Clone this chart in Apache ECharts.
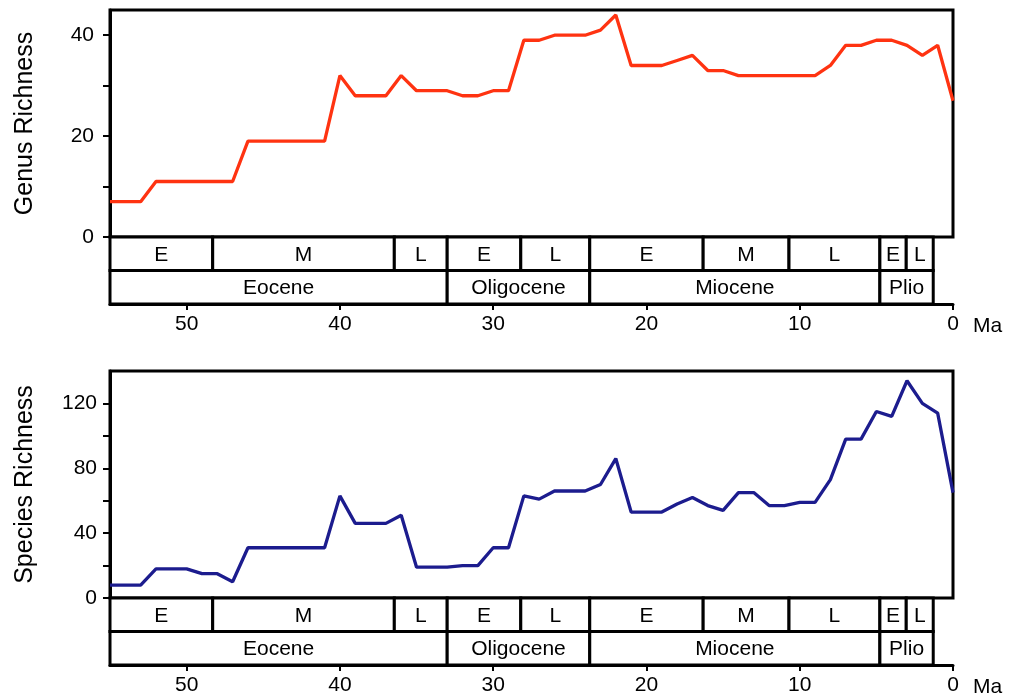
<!DOCTYPE html>
<html>
<head>
<meta charset="utf-8">
<script src="https://cdn.jsdelivr.net/npm/echarts@6/dist/echarts.min.js"></script>
<style>
  html, body { margin: 0; padding: 0; background: #fff; }
  #chart { width: 1009px; height: 698px; }
</style>
</head>
<body>
<div id="chart"></div>
<script>
// Ages (Ma) of the richness samples, oldest first
const ages = [55, 54, 53, 52, 51, 50, 49, 48, 47, 46, 45, 44, 43, 42, 41, 40, 39, 38, 37, 36,
              35, 34, 33, 32, 31, 30, 29, 28, 27, 26, 25, 24, 23, 22, 21, 20, 19, 18, 17, 16,
              15, 14, 13, 12, 11, 10, 9, 8, 7, 6, 5, 4, 3, 2, 1, 0];

// Genus richness at each age
const genusRichness = [7, 7, 7, 11, 11, 11, 11, 11, 11, 19, 19, 19, 19, 19, 19, 32, 28, 28, 28, 32,
                       29, 29, 29, 28, 28, 29, 29, 39, 39, 40, 40, 40, 41, 44, 34, 34, 34, 35, 36, 33,
                       33, 32, 32, 32, 32, 32, 32, 34, 38, 38, 39, 39, 38, 36, 38, 27];

// Species richness at each age
const speciesRichness = [8, 8, 8, 18, 18, 18, 15, 15, 10, 31, 31, 31, 31, 31, 31, 63, 46, 46, 46, 51,
                         19, 19, 19, 20, 20, 31, 31, 63, 61, 66, 66, 66, 70, 86, 53, 53, 53, 58, 62, 57,
                         54, 65, 65, 57, 57, 59, 59, 73, 98, 98, 115, 112, 134, 120, 114, 65];

// Geological time scale: boundaries (Ma) and names
const stageBounds = [55, 48.3, 36.45, 33.0, 28.2, 23.7, 16.3, 10.7, 4.77, 3.05, 1.29];
const stageNames = ['E', 'M', 'L', 'E', 'L', 'E', 'M', 'L', 'E', 'L'];
const epochBounds = [55, 33.0, 23.7, 4.77, 1.29];
const epochNames = ['Eocene', 'Oligocene', 'Miocene', 'Plio'];

// Axis tick values
const ageTicks = [50, 40, 30, 20, 10, 0];
const genusTicks = [0, 10, 20, 30, 40];
const genusLabels = [0, 20, 40];
const speciesTicks = [0, 20, 40, 60, 80, 100, 120];
const speciesLabels = [0, 40, 80, 120];

const FONT = '"Liberation Sans", Arial, Helvetica, sans-serif';
const BLACK = '#000';
const FRAME = 3;

// Build timescale rows: row 0 = stages, row 1 = epochs
const scaleRows = [];
const scaleNames = [];
for (let i = 0; i < stageNames.length; i++) {
  scaleRows.push([stageBounds[i], stageBounds[i + 1], 0]);
  scaleNames.push(stageNames[i]);
}
for (let i = 0; i < epochNames.length; i++) {
  scaleRows.push([epochBounds[i], epochBounds[i + 1], 1]);
  scaleNames.push(epochNames[i]);
}

function renderBox(params, api) {
  const a = api.coord([api.value(0), api.value(2)]);
  const b = api.coord([api.value(1), api.value(2) + 1]);
  const x = Math.min(a[0], b[0]);
  const y = Math.min(a[1], b[1]);
  const w = Math.abs(b[0] - a[0]);
  const h = Math.abs(b[1] - a[1]);
  return {
    type: 'group',
    children: [
      { type: 'rect', shape: { x: x, y: y, width: w, height: h },
        style: { fill: '#fff', stroke: BLACK, lineWidth: FRAME } },
      { type: 'text',
        style: { text: scaleNames[params.dataIndex], x: x + w / 2, y: y + h / 2 + 1,
                 align: 'center', verticalAlign: 'middle',
                 fontSize: 21, fontFamily: FONT, fill: BLACK } }
    ]
  };
}

const gridBase = { left: 110, right: 56, show: false, outerBoundsMode: 'none' };
const plotGrid = Object.assign({}, gridBase, { show: true, borderColor: BLACK, borderWidth: FRAME, backgroundColor: '#fff' });

function ageAxis(gridIndex, visible) {
  return {
    type: 'value', gridIndex: gridIndex, min: 0, max: 55, inverse: true,
    show: visible,
    name: visible ? 'Ma' : '',
    nameLocation: 'start',
    nameGap: 20,
    nameTextStyle: { fontSize: 21, fontFamily: FONT, color: BLACK, verticalAlign: 'top', padding: [12, 0, 0, 0] },
    axisLine: { show: true, onZero: false, lineStyle: { color: BLACK, width: FRAME } },
    axisTick: { show: true, length: 6, customValues: ageTicks, lineStyle: { color: BLACK, width: 2 } },
    axisLabel: { show: true, customValues: ageTicks, margin: 10, fontSize: 21, fontFamily: FONT, color: BLACK },
    splitLine: { show: false }
  };
}

function valueAxis(gridIndex, max, ticks, labels, title, margin) {
  return {
    type: 'value', gridIndex: gridIndex, min: 0, max: max, position: 'left',
    name: title, nameLocation: 'middle', nameGap: 72,
    nameTextStyle: { fontSize: 25, fontFamily: FONT, color: BLACK },
    axisLine: { show: true, onZero: false, lineStyle: { color: BLACK, width: FRAME } },
    axisTick: { show: true, length: 7, customValues: ticks, lineStyle: { color: BLACK, width: 2 } },
    axisLabel: { customValues: labels, margin: margin, fontSize: 21, fontFamily: FONT, color: BLACK },
    splitLine: { show: false }
  };
}

function scaleYAxis(gridIndex) {
  return { type: 'value', gridIndex: gridIndex, min: 0, max: 2, inverse: true, show: false };
}

const option = {
  animation: false,
  backgroundColor: '#fff',
  textStyle: { fontFamily: FONT },
  grid: [
    Object.assign({}, plotGrid, { top: 10, height: 227 }),
    Object.assign({}, gridBase, { top: 237, height: 67 }),
    Object.assign({}, plotGrid, { top: 371, height: 227 }),
    Object.assign({}, gridBase, { top: 598, height: 67 })
  ],
  xAxis: [ageAxis(0, false), ageAxis(1, true), ageAxis(2, false), ageAxis(3, true)],
  yAxis: [
    valueAxis(0, 45, genusTicks, genusLabels, 'Genus Richness', 16),
    scaleYAxis(1),
    valueAxis(2, 140, speciesTicks, speciesLabels, 'Species Richness', 13),
    scaleYAxis(3)
  ],
  series: [
    {
      type: 'line', xAxisIndex: 0, yAxisIndex: 0,
      data: ages.map((a, i) => [a, genusRichness[i]]),
      symbol: 'none', lineStyle: { color: '#ff3311', width: 3.3 }, z: 3
    },
    {
      type: 'custom', xAxisIndex: 1, yAxisIndex: 1,
      renderItem: renderBox, data: scaleRows, encode: { x: [0, 1], y: 2 }, clip: false
    },
    {
      type: 'line', xAxisIndex: 2, yAxisIndex: 2,
      data: ages.map((a, i) => [a, speciesRichness[i]]),
      symbol: 'none', lineStyle: { color: '#1c1c8e', width: 3.3 }, z: 3
    },
    {
      type: 'custom', xAxisIndex: 3, yAxisIndex: 3,
      renderItem: renderBox, data: scaleRows, encode: { x: [0, 1], y: 2 }, clip: false
    }
  ]
};

const chart = echarts.init(document.getElementById('chart'), null, { renderer: 'canvas' });
chart.setOption(option);
</script>
</body>
</html>
